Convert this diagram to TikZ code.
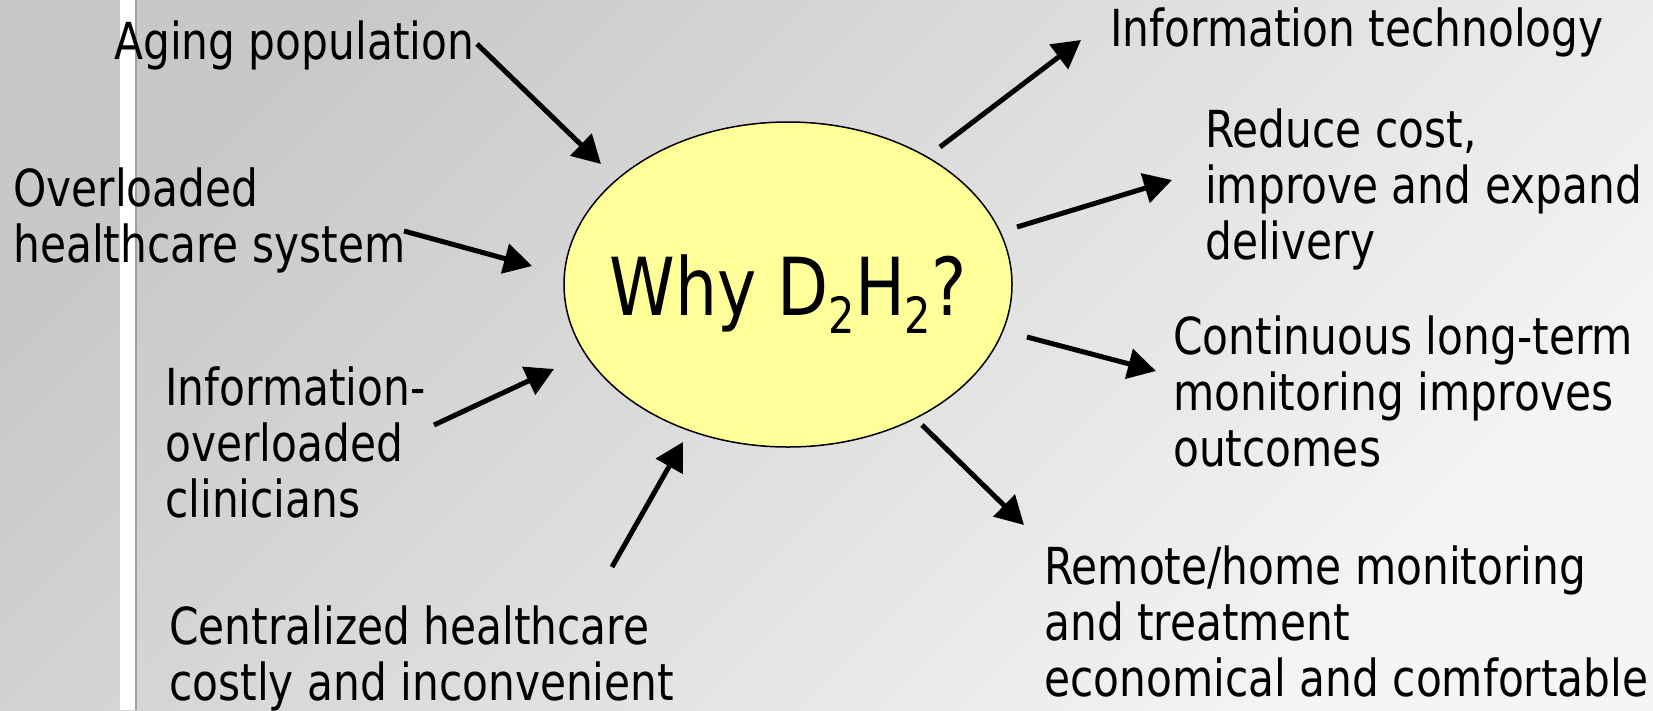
\documentclass[tikz,border=0pt]{standalone}
\usepackage{fontspec}
\setmainfont{DejaVu Sans}[FakeStretch=0.83]
\usetikzlibrary{arrows.meta,shapes.geometric}
\definecolor{slidedark}{HTML}{C8C8C8}
\definecolor{slidelight}{HTML}{F5F5F5}
\definecolor{whyyellow}{HTML}{FFFF99}
\newcommand{\lowdigit}[1]{\raisebox{-18pt}{\fontsize{50}{50}\selectfont #1}}

\begin{document}
\begin{tikzpicture}[
  x=1pt, y=-1pt,
  reason/.style={anchor=north west, inner sep=0pt, align=left,
                 font=\fontsize{51}{56}\selectfont},
  whybox/.style={ellipse, draw=black, line width=1.5pt, fill=whyyellow,
                 minimum width=448pt, minimum height=325pt, inner sep=0pt,
                 text height=75pt, text depth=14pt,
                 font=\fontsize{80}{90}\selectfont},
  push/.style={-{Triangle[length=28pt,width=30pt]}, line width=5pt},
]
\useasboundingbox (0,0) rectangle (1653,710);

% Backdrop
\shade[top color=slidedark, bottom color=slidelight, shading angle=45]
  (0,0) rectangle (1653,710);
\fill[white] (120,0) rectangle (135,710);
\fill[gray!75] (135,0) rectangle (137,710);

% Centre
\node[whybox] (why) at (788,284.5)
  {\makebox[0pt]{Why D\lowdigit{2}H\lowdigit{2}?}};

% Causes (left)
\node[reason] (aging) at (114,21) {Aging population};
\node[reason] (overload) at (13,168) {Overloaded\\healthcare system};
\node[reason] (clinic) at (165,367) {Information-\\overloaded\\clinicians};
\node[reason] (central) at (169,606) {Centralized healthcare\\costly and inconvenient};

% Effects (right)
\node[reason] (infotech) at (1110,8) {Information technology};
\node[reason] (reduce) at (1205,109) {Reduce cost,\\improve and expand\\delivery};
\node[reason] (longterm) at (1173,316) {Continuous long-term\\monitoring improves\\outcomes};
\node[reason] (remote) at (1044,546) {Remote/home monitoring\\and treatment\\economical and comfortable};

% Arrow ends
\coordinate (agingT) at (477,44);    \coordinate (agingH) at (601,164);
\coordinate (overT) at (404,231);    \coordinate (overH) at (532,266);
\coordinate (clinT) at (434,425);    \coordinate (clinH) at (554,369);
\coordinate (centT) at (612,567);    \coordinate (centH) at (683,442);
\coordinate (techT) at (940,147);    \coordinate (techH) at (1081,40);
\coordinate (reduceT) at (1017,227); \coordinate (reduceH) at (1172,180);
\coordinate (longT) at (1027,337);   \coordinate (longH) at (1156,371);
\coordinate (remoteT) at (922,425);  \coordinate (remoteH) at (1024,525);

% Arrows
\draw[push] (agingT) -- (agingH);
\draw[push] (overT) -- (overH);
\draw[push] (clinT) -- (clinH);
\draw[push] (centT) -- (centH);
\draw[push] (techT) -- (techH);
\draw[push] (reduceT) -- (reduceH);
\draw[push] (longT) -- (longH);
\draw[push] (remoteT) -- (remoteH);
\end{tikzpicture}
\end{document}
